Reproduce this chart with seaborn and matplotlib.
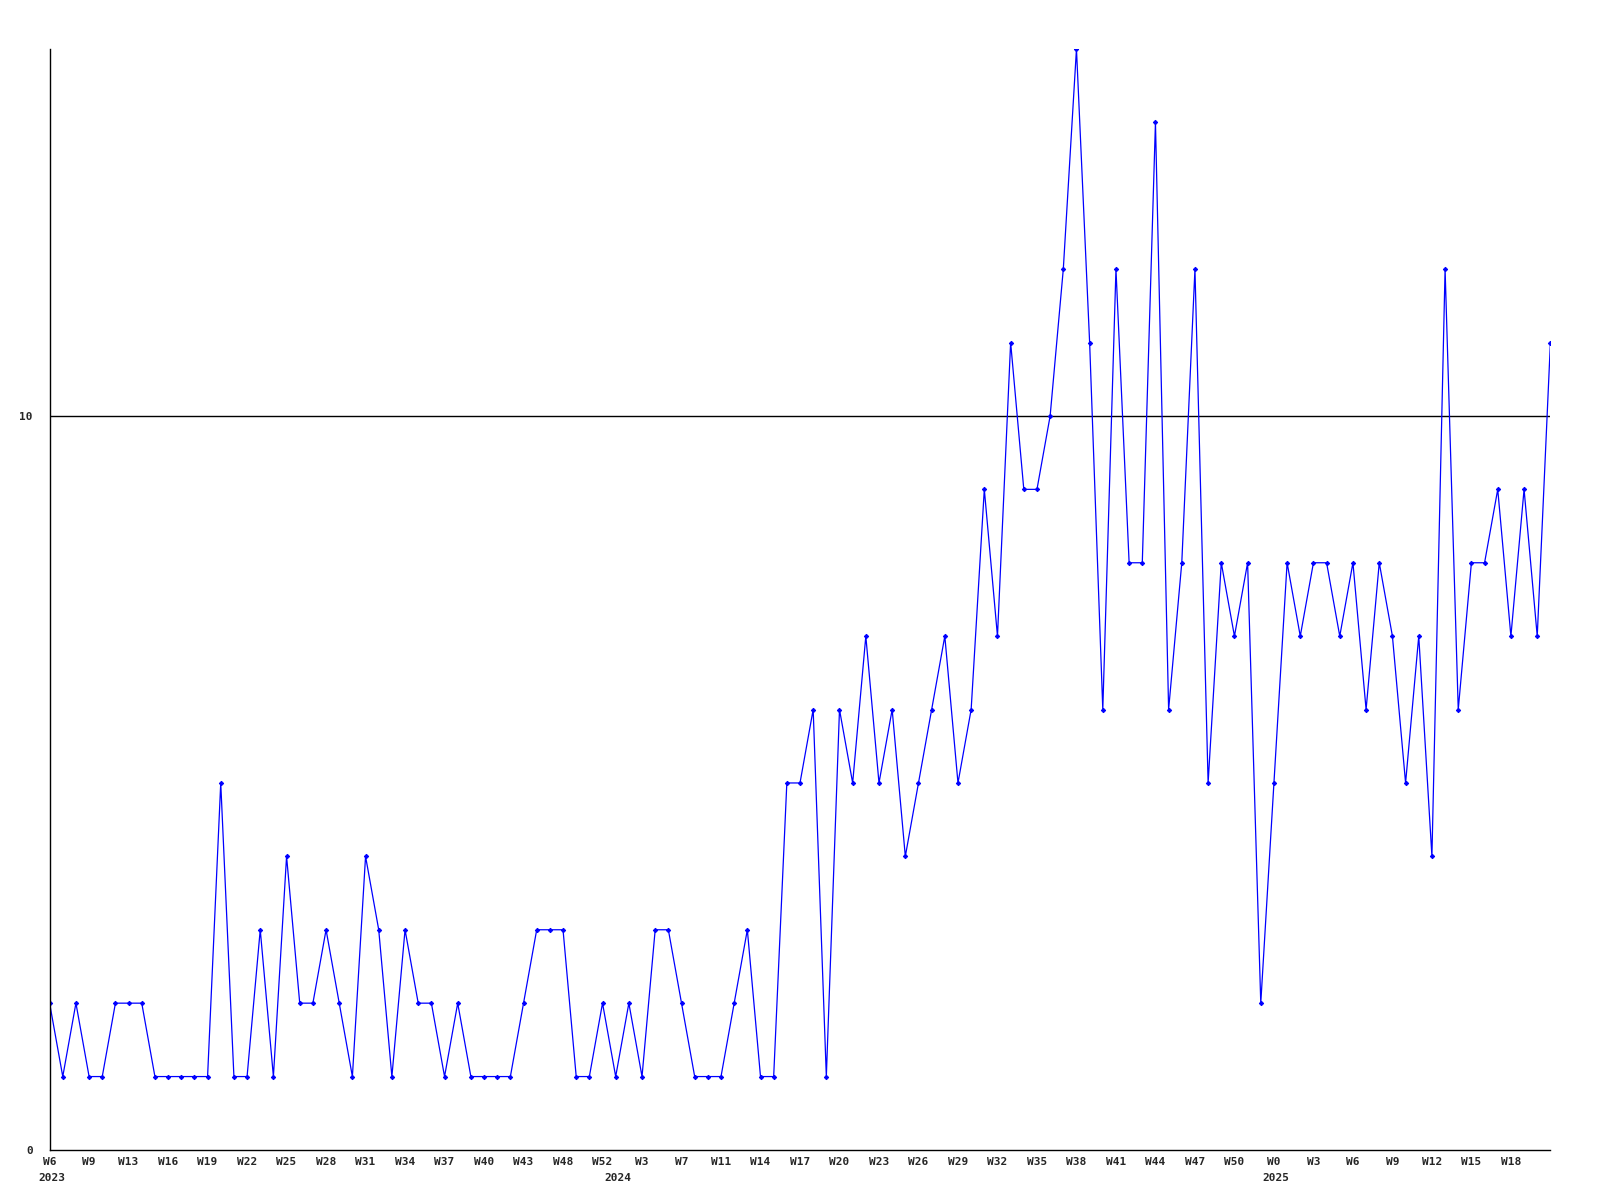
import pandas as pd
import numpy as np
import matplotlib.pyplot as plt
import seaborn as sns

# weekly counts, one value per week
counts = [2, 1, 2, 1, 1, 2, 2, 2, 1, 1, 1, 1, 1, 5, 1, 1, 3, 1, 4, 2,
          2, 3, 2, 1, 4, 3, 1, 3, 2, 2, 1, 2, 1, 1, 1, 1, 2, 3, 3, 3,
          1, 1, 2, 1, 2, 1, 3, 3, 2, 1, 1, 1, 2, 3, 1, 1, 5, 5, 6, 1,
          6, 5, 7, 5, 6, 4, 5, 6, 7, 5, 6, 9, 7, 11, 9, 9, 10, 12, 15, 11,
          6, 12, 8, 8, 14, 6, 8, 12, 5, 8, 7, 8, 2, 5, 8, 7, 8, 8, 7, 8,
          6, 8, 7, 5, 7, 4, 12, 6, 8, 8, 9, 7, 9, 7, 11]

# one label every third week
week_labels = ["W6", "W9", "W13", "W16", "W19", "W22", "W25", "W28", "W31",
               "W34", "W37", "W40", "W43", "W48", "W52", "W3", "W7", "W11",
               "W14", "W17", "W20", "W23", "W26", "W29", "W32", "W35", "W38",
               "W41", "W44", "W47", "W50", "W0", "W3", "W6", "W9", "W12",
               "W15", "W18"]

years = ["2023", "2024", "2025"]
year_start_week = [0, 43, 93]

df = pd.DataFrame({"week": np.arange(len(counts)), "count": counts})

sns.set_style("white")
plt.rcParams['font.family'] = ['DejaVu Sans Mono', 'DejaVu Sans']

fig = plt.figure(figsize=(16, 12), dpi=100)
ax = fig.add_axes([0.031, 0.0417, 0.938, 0.9175])

sns.lineplot(data=df, x="week", y="count", ax=ax, color="#0000ff",
             linewidth=0.9, marker="D", markersize=2.2,
             markeredgecolor="#0000ff", markerfacecolor="#0000ff")

ax.axhline(10, color="black", linewidth=1.0, zorder=0)

ax.set_xlim(0, len(counts) - 1)
ax.set_ylim(0, 15)

ax.set_yticks([0, 10])
ax.set_yticklabels(["0", "10"], fontsize=8, fontweight="bold")
ax.set_xticks(np.arange(0, len(week_labels) * 3, 3))
ax.set_xticklabels(week_labels, fontsize=8, fontweight="bold")
ax.tick_params(axis="both", length=0)
ax.tick_params(axis="x", pad=5)
ax.tick_params(axis="y", pad=12)

trans = ax.get_xaxis_transform()
for yr, pos in zip(years, year_start_week):
    ax.text(pos - 0.85, -0.021, yr, transform=trans, ha="left", va="top",
            fontsize=8, fontweight="bold")

ax.set_xlabel("")
ax.set_ylabel("")
for side in ["top", "right"]:
    ax.spines[side].set_visible(False)
for side in ["left", "bottom"]:
    ax.spines[side].set_color("black")
    ax.spines[side].set_linewidth(1.0)

fig.savefig("out.png", dpi=100, facecolor="white")
